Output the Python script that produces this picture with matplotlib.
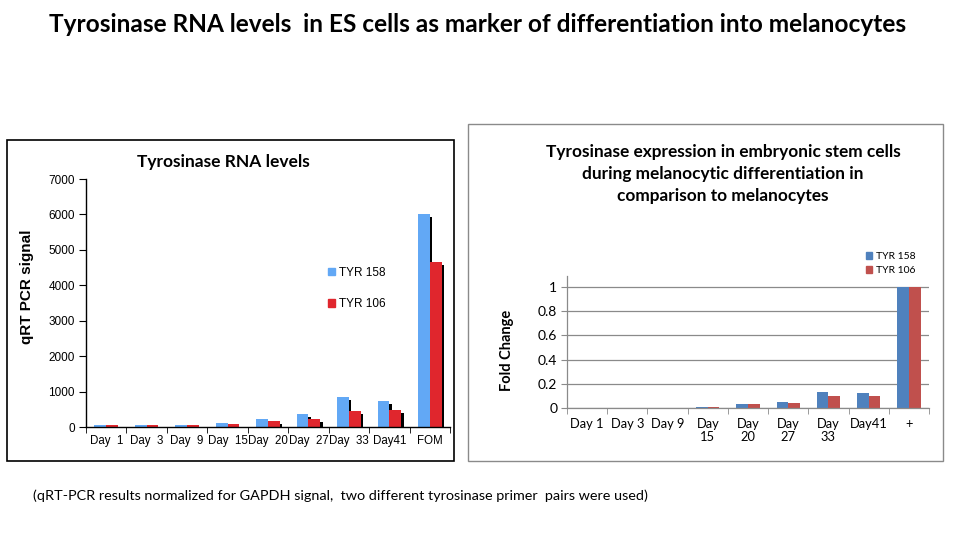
import matplotlib
matplotlib.use('Agg')
import matplotlib.pyplot as plt
import matplotlib.patheffects as pe
from matplotlib.patches import Rectangle, Patch
import numpy as np

# 数据
left_labels = ['Day  1', 'Day  3', 'Day  9', 'Day  15', 'Day  20', 'Day  27', 'Day  33', 'Day41', 'FOM']
tyr158_signal = [55, 55, 55, 115, 235, 365, 850, 735, 6000]
tyr106_signal = [55, 55, 55, 85, 170, 225, 450, 480, 4650]

right_labels = ['Day 1', 'Day 3', 'Day 9', 'Day\n15', 'Day\n20', 'Day\n27', 'Day\n33', 'Day41', '+']
tyr158_fold = [0.001, 0.001, 0.001, 0.01, 0.035, 0.052, 0.135, 0.12, 1.0]
tyr106_fold = [0.001, 0.001, 0.001, 0.01, 0.035, 0.045, 0.095, 0.095, 1.0]

W, H = 955, 538
fig = plt.figure(figsize=(W / 100, H / 100), dpi=100)
fig.patch.set_facecolor('white')

def fx(px):
    return px / W

def fy(py):
    return 1 - py / H

arial = 'Liberation Sans'
calib = 'Lato'

# 总标题
fig.text(fx(478), fy(25), 'Tyrosinase RNA levels  in ES cells as marker of differentiation into melanocytes',
         ha='center', va='center', fontsize=17.6, fontweight='bold', family=calib)
fig.text(fx(33), fy(496), '(qRT-PCR results normalized for GAPDH signal,  two different tyrosinase primer  pairs were used)',
         ha='left', va='center', fontsize=10.4, family=calib)

# 外框
fig.patches.append(Rectangle((fx(7), fy(461)), fx(447), 321 / H, transform=fig.transFigure,
                             fill=False, edgecolor='black', linewidth=1.2))
fig.patches.append(Rectangle((fx(468), fy(461)), fx(475), 337 / H, transform=fig.transFigure,
                             fill=False, edgecolor='#8a8a8a', linewidth=1.0))

# ---------------- 左图 ----------------
blue1, red1 = '#62a8f5', '#e0262d'
x = np.arange(len(left_labels))
w = 0.29
ax1 = fig.add_axes([fx(86), fy(427), fx(364), 248 / H])
shadow = [pe.SimplePatchShadow(offset=(1.8, -2.2), shadow_rgbFace='black', alpha=1.0), pe.Normal()]
ax1.bar(x - w / 2, tyr158_signal, w, color=blue1, path_effects=shadow)
ax1.bar(x + w / 2, tyr106_signal, w, color=red1, path_effects=shadow)
ax1.set_xlim(-0.5, len(left_labels) - 0.5)
ax1.set_ylim(0, 7000)
ax1.set_yticks(np.arange(0, 7001, 1000))
ax1.set_xticks(x)
ax1.set_xticklabels(left_labels, family=arial, fontsize=8.3)
ax1.set_xticks(np.arange(len(left_labels) + 1) - 0.5, minor=True)
ax1.tick_params(axis='x', which='major', length=0, pad=6)
ax1.tick_params(axis='x', which='minor', length=4, direction='out', color='black')
ax1.tick_params(axis='y', length=5, direction='out', labelsize=8.5, pad=3)
for lab in ax1.get_yticklabels():
    lab.set_family(arial)
for s in ['top', 'right']:
    ax1.spines[s].set_visible(False)
for s in ['left', 'bottom']:
    ax1.spines[s].set_color('black')
    ax1.spines[s].set_linewidth(1.0)
ax1.set_title('Tyrosinase RNA levels', family=calib, fontweight='bold', fontsize=12.5, pad=0,
              x=(223 - 86) / 364, y=(427 - 162) / 248, va='center')
fig.text(fx(27), fy(287), 'qRT PCR signal', rotation=90, ha='center', va='center',
         fontsize=11, fontweight='bold', family=arial)
h1 = [Patch(color=blue1, label='TYR 158'), Patch(color=red1, label='TYR 106')]
ax1.legend(handles=h1, loc='upper left', bbox_to_anchor=(fx(322), fy(261)),
           bbox_transform=fig.transFigure, frameon=False, handlelength=0.6, handleheight=0.6,
           handletextpad=0.35, labelspacing=1.65, borderpad=0, prop={'family': arial, 'size': 8.5})

# ---------------- 右图 ----------------
blue2, red2 = '#4f81bd', '#c0504d'
x2 = np.arange(len(right_labels))
ax2 = fig.add_axes([fx(567), fy(408), fx(362), 132 / H])
ax2.set_axisbelow(True)
ax2.yaxis.grid(True, color='#8a8a8a', linewidth=0.9)
ax2.bar(x2 - w / 2, tyr158_fold, w, color=blue2)
ax2.bar(x2 + w / 2, tyr106_fold, w, color=red2)
ax2.set_xlim(-0.5, len(right_labels) - 0.5)
ax2.set_ylim(0, 1.09)
ax2.set_yticks([0, 0.2, 0.4, 0.6, 0.8, 1])
ax2.set_yticklabels(['0', '0.2', '0.4', '0.6', '0.8', '1'], family=calib, fontsize=10)
ax2.set_xticks(x2)
ax2.set_xticklabels(right_labels, family=calib, fontsize=9.3, linespacing=1.15, va='top')
ax2.set_xticks(np.arange(len(right_labels) + 1) - 0.5, minor=True)
ax2.tick_params(axis='x', which='major', length=0, pad=7)
ax2.tick_params(axis='x', which='minor', length=4, direction='out', color='#8a8a8a')
ax2.tick_params(axis='y', length=4, direction='out', color='#8a8a8a', pad=3)
for s in ['top', 'right']:
    ax2.spines[s].set_visible(False)
for s in ['left', 'bottom']:
    ax2.spines[s].set_color('#8a8a8a')
    ax2.spines[s].set_linewidth(0.9)
fig.text(fx(723), fy(174), 'Tyrosinase expression in embryonic stem cells\nduring melanocytic differentiation in\ncomparison to melanocytes',
         ha='center', va='center', fontsize=12.4, fontweight='bold', family=calib, linespacing=1.5)
fig.text(fx(507), fy(350), 'Fold Change', rotation=90, ha='center', va='center',
         fontsize=10.5, fontweight='bold', family=calib)
h2 = [Patch(color=blue2, label='TYR 158'), Patch(color=red2, label='TYR 106')]
ax2.legend(handles=h2, loc='upper left', bbox_to_anchor=(fx(861), fy(247)),
           bbox_transform=fig.transFigure, frameon=False, handlelength=0.6, handleheight=0.6,
           handletextpad=0.3, labelspacing=0.45, borderpad=0, prop={'family': calib, 'size': 7.5})

fig.savefig('out.png', dpi=100, facecolor='white')
